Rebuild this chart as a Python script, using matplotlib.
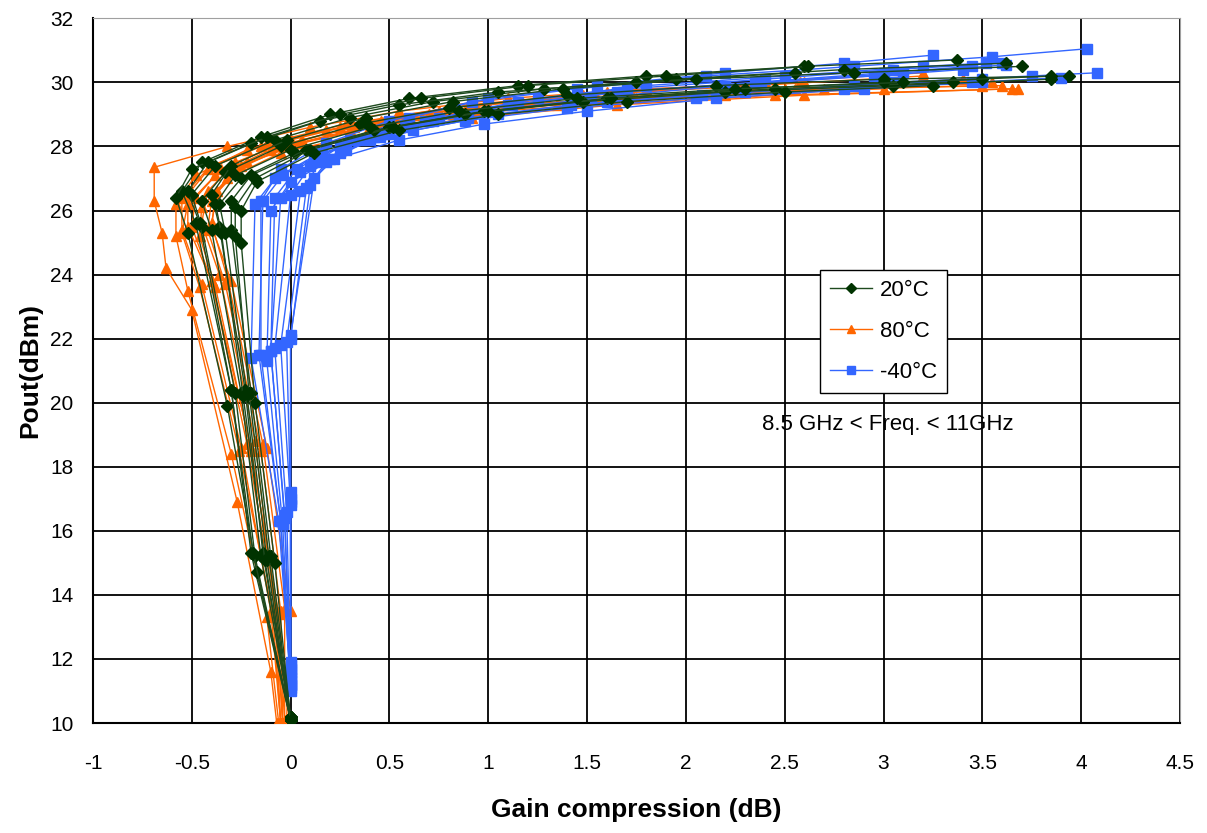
import matplotlib.pyplot as plt

# Gain compression (dB) vs Pout (dBm), one curve per frequency
gc_20 = [
    [0.00, -0.20, -0.30, -0.48, -0.55, -0.45, -0.15, 0.20, 0.60, 1.15, 1.80, 2.60, 3.37],
    [0.00, -0.18, -0.28, -0.45, -0.50, -0.38, -0.08, 0.30, 0.72, 1.28, 1.95, 2.80, 3.62],
    [0.00, -0.15, -0.25, -0.40, -0.45, -0.33, -0.05, 0.35, 0.80, 1.40, 2.15, 3.00, 3.94],
    [0.00, -0.12, -0.22, -0.33, -0.36, -0.25, 0.02, 0.42, 0.88, 1.48, 2.20, 3.05, 3.85],
    [0.00, -0.10, -0.20, -0.30, -0.30, -0.20, 0.08, 0.50, 0.98, 1.60, 2.45, 3.35],
    [0.00, -0.08, -0.18, -0.25, -0.25, -0.17, 0.12, 0.55, 1.05, 1.70, 2.50, 3.25],
    [0.00, -0.17, -0.32, -0.52, -0.58, -0.50, -0.20, 0.15, 0.55, 1.05, 1.75, 2.55],
    [0.00, -0.14, -0.23, -0.36, -0.40, -0.30, -0.02, 0.38, 0.82, 1.38, 2.05, 2.85, 3.70],
    [0.00, -0.11, -0.21, -0.28, -0.28, -0.18, 0.10, 0.52, 1.00, 1.62, 2.30, 3.00, 3.50],
    [0.00, -0.19, -0.30, -0.46, -0.52, -0.42, -0.12, 0.25, 0.66, 1.20, 1.90, 2.62],
    [0.00, -0.13, -0.24, -0.35, -0.38, -0.28, 0.00, 0.40, 0.85, 1.45, 2.25, 3.10, 3.85],
]
pout_20 = [
    [10.1, 15.3, 20.4, 25.6, 26.6, 27.5, 28.3, 29.0, 29.5, 29.9, 30.2, 30.5, 30.7],
    [10.1, 15.2, 20.3, 25.5, 26.5, 27.4, 28.2, 28.9, 29.4, 29.8, 30.1, 30.4, 30.6],
    [10.2, 15.2, 20.3, 25.4, 26.3, 27.2, 28.0, 28.7, 29.2, 29.6, 29.9, 30.1, 30.2],
    [10.1, 15.1, 20.2, 25.3, 26.2, 27.0, 27.8, 28.5, 29.0, 29.4, 29.7, 29.9, 30.1],
    [10.2, 15.2, 20.3, 25.4, 26.3, 27.1, 27.9, 28.6, 29.1, 29.5, 29.8, 30.0],
    [10.1, 15.0, 20.0, 25.0, 26.0, 26.9, 27.8, 28.5, 29.0, 29.4, 29.7, 29.9],
    [10.1, 14.7, 19.9, 25.3, 26.4, 27.3, 28.1, 28.8, 29.3, 29.7, 30.0, 30.3],
    [10.2, 15.3, 20.4, 25.5, 26.5, 27.4, 28.2, 28.9, 29.4, 29.8, 30.1, 30.3, 30.5],
    [10.1, 15.2, 20.3, 25.2, 26.1, 27.0, 27.9, 28.6, 29.1, 29.5, 29.8, 30.0, 30.1],
    [10.2, 15.3, 20.4, 25.6, 26.6, 27.5, 28.3, 29.0, 29.5, 29.9, 30.2, 30.5],
    [10.1, 15.1, 20.2, 25.3, 26.2, 27.1, 27.9, 28.6, 29.1, 29.5, 29.8, 30.0, 30.2],
]

gc_80 = [
    [-0.07, -0.10, -0.27, -0.50, -0.63, -0.65, -0.69, -0.69, -0.32, 0.10, 0.55, 1.10, 1.80, 2.60],
    [-0.05, -0.10, -0.25, -0.45, -0.55, -0.55, -0.42, -0.15, 0.25, 0.75, 1.40, 2.30, 3.50],
    [-0.04, -0.08, -0.22, -0.40, -0.50, -0.48, -0.35, -0.08, 0.32, 0.85, 1.55, 2.50, 3.55],
    [-0.03, -0.06, -0.20, -0.38, -0.46, -0.45, -0.32, -0.05, 0.38, 0.92, 1.65, 2.60, 3.65],
    [-0.05, -0.08, -0.18, -0.36, -0.45, -0.42, -0.28, 0.00, 0.40, 0.90, 1.60, 2.40, 3.20],
    [-0.02, 0.00, -0.12, -0.30, -0.40, -0.38, -0.25, 0.05, 0.45, 1.00, 1.75, 2.70, 3.60],
    [-0.06, -0.12, -0.30, -0.52, -0.58, -0.58, -0.48, -0.22, 0.18, 0.70, 1.35, 2.20, 3.00],
    [-0.04, -0.05, -0.15, -0.33, -0.42, -0.40, -0.30, -0.02, 0.42, 0.95, 1.70, 2.55, 3.40],
    [-0.04, -0.07, -0.20, -0.40, -0.52, -0.52, -0.40, -0.12, 0.28, 0.80, 1.48, 2.35, 3.20],
    [-0.05, -0.09, -0.26, -0.46, -0.55, -0.52, -0.38, -0.10, 0.30, 0.82, 1.50, 2.45, 3.68],
    [-0.03, -0.03, -0.14, -0.32, -0.40, -0.37, -0.22, 0.06, 0.46, 1.00, 1.72, 2.58],
]
pout_80 = [
    [10.0, 11.6, 16.9, 22.9, 24.2, 25.3, 26.3, 27.35, 28.0, 28.6, 29.1, 29.5, 29.8, 30.0],
    [10.0, 13.5, 18.6, 23.7, 25.4, 26.4, 27.3, 28.0, 28.6, 29.1, 29.4, 29.7, 29.9],
    [10.0, 13.6, 18.7, 23.8, 25.5, 26.4, 27.3, 28.0, 28.6, 29.1, 29.5, 29.8, 30.0],
    [10.0, 13.4, 18.5, 23.6, 25.2, 26.1, 27.0, 27.8, 28.4, 28.9, 29.3, 29.6, 29.8],
    [10.0, 13.6, 18.8, 24.0, 25.6, 26.6, 27.5, 28.2, 28.8, 29.3, 29.7, 30.0, 30.3],
    [10.1, 13.5, 18.6, 23.8, 25.5, 26.5, 27.4, 28.1, 28.7, 29.2, 29.5, 29.8, 29.9],
    [10.0, 13.3, 18.4, 23.5, 25.2, 26.2, 27.1, 27.9, 28.5, 29.0, 29.3, 29.6, 29.8],
    [10.0, 13.5, 18.5, 23.7, 25.4, 26.3, 27.2, 28.0, 28.6, 29.1, 29.5, 29.8, 30.1],
    [10.0, 13.5, 18.6, 23.8, 25.5, 26.5, 27.4, 28.1, 28.7, 29.2, 29.6, 29.9, 30.2],
    [10.0, 13.4, 18.5, 23.6, 25.3, 26.2, 27.1, 27.9, 28.5, 29.0, 29.3, 29.6, 29.8],
    [10.1, 13.6, 18.7, 23.9, 25.6, 26.6, 27.5, 28.2, 28.8, 29.3, 29.7, 30.0],
]

gc_m40 = [
    [0.00, -0.05, -0.15, -0.15, -0.05, 0.18, 0.50, 0.92, 1.45, 2.10, 2.85, 3.55, 4.03],
    [0.00, -0.03, -0.10, -0.05, 0.05, 0.28, 0.62, 1.05, 1.60, 2.30, 3.05, 3.75, 4.08],
    [0.00, -0.02, -0.08, 0.00, 0.10, 0.30, 0.60, 1.00, 1.55, 2.20, 2.80, 3.25],
    [0.00, 0.00, -0.05, 0.05, 0.15, 0.35, 0.68, 1.10, 1.65, 2.35, 3.00, 3.45],
    [0.00, 0.00, 0.00, 0.10, 0.20, 0.42, 0.75, 1.15, 1.70, 2.40, 3.05, 3.60],
    [0.00, -0.06, -0.20, -0.18, -0.08, 0.12, 0.45, 0.88, 1.40, 2.05, 2.80, 3.45, 3.90],
    [0.00, -0.04, -0.12, -0.10, 0.00, 0.22, 0.55, 0.98, 1.50, 2.15, 2.90, 3.50],
    [0.00, 0.00, 0.00, 0.12, 0.25, 0.50, 0.85, 1.25, 1.80, 2.50, 3.20, 3.52],
    [0.00, -0.03, -0.10, -0.08, 0.03, 0.25, 0.58, 1.00, 1.52, 2.20, 2.95, 3.40],
    [0.00, 0.00, -0.02, 0.08, 0.18, 0.40, 0.72, 1.12, 1.68, 2.38, 3.10, 3.62],
    [0.00, -0.05, -0.16, -0.14, -0.04, 0.16, 0.48, 0.90, 1.42, 2.08, 2.85, 3.50],
]
pout_m40 = [
    [11.0, 16.3, 21.5, 26.3, 27.3, 28.1, 28.8, 29.4, 29.8, 30.2, 30.5, 30.8, 31.05],
    [11.2, 16.4, 21.6, 26.4, 27.2, 27.9, 28.5, 29.0, 29.4, 29.7, 30.0, 30.2, 30.3],
    [11.5, 16.6, 21.7, 26.5, 27.4, 28.2, 28.9, 29.5, 29.9, 30.3, 30.6, 30.85],
    [11.6, 16.8, 21.8, 26.6, 27.5, 28.2, 28.8, 29.3, 29.7, 30.0, 30.3, 30.5],
    [11.8, 17.0, 22.0, 26.8, 27.6, 28.3, 28.9, 29.4, 29.8, 30.1, 30.4, 30.6],
    [11.3, 16.3, 21.4, 26.2, 27.0, 27.7, 28.3, 28.8, 29.2, 29.5, 29.8, 30.0, 30.15],
    [11.1, 16.2, 21.3, 26.0, 26.9, 27.6, 28.2, 28.7, 29.1, 29.5, 29.8, 30.0],
    [11.9, 17.2, 22.1, 27.0, 27.8, 28.4, 29.0, 29.5, 29.9, 30.2, 30.5, 30.6],
    [11.4, 16.5, 21.6, 26.4, 27.3, 28.0, 28.6, 29.1, 29.5, 29.9, 30.2, 30.4],
    [11.7, 16.9, 21.9, 26.7, 27.5, 28.2, 28.8, 29.3, 29.7, 30.0, 30.3, 30.55],
    [11.2, 16.3, 21.5, 26.3, 27.1, 27.8, 28.4, 28.9, 29.3, 29.6, 29.9, 30.1],
]

x_ticks = [-1, -0.5, 0, 0.5, 1, 1.5, 2, 2.5, 3, 3.5, 4, 4.5]
x_labels = ['-1', '-0.5', '0', '0.5', '1', '1.5', '2', '2.5', '3', '3.5', '4', '4.5']
y_ticks = [10, 12, 14, 16, 18, 20, 22, 24, 26, 28, 30, 32]

plt.rcParams['font.family'] = ['Liberation Sans', 'DejaVu Sans']

fig = plt.figure(figsize=(12.07, 8.33), dpi=100)
ax = fig.add_axes([0.077, 0.132, 0.9006, 0.846])

# (x, y, line colour, marker colour, marker, size, label)
series = [
    (gc_80, pout_80, '#FF6600', '#FF6600', '^', 7.5, '80°C'),
    (gc_m40, pout_m40, '#3366FF', '#3366FF', 's', 6.5, '-40°C'),
    (gc_20, pout_20, '#1E4A1E', '#003300', 'D', 6, '20°C'),
]
handles = {}
for xs, ys, lc, mc, mk, ms, lab in series:
    for i in range(len(xs)):
        ln, = ax.plot(xs[i], ys[i], color=lc, lw=1, marker=mk, ms=ms,
                      mfc=mc, mec=mc, zorder=3)
        if i == 0:
            handles[lab] = ln

ax.set_xlim(-1, 4.5)
ax.set_ylim(10, 32)
ax.set_xticks(x_ticks)
ax.set_xticklabels(x_labels)
ax.set_yticks(y_ticks)
ax.grid(True, color='black', lw=1.3)
ax.set_axisbelow(True)
ax.tick_params(length=0, labelsize=15, pad=22)
ax.tick_params(axis='y', pad=14)
for side in ['top', 'right']:
    ax.spines[side].set_color('#a0a0a0')
for side in ['left', 'bottom']:
    ax.spines[side].set_color('black')
    ax.spines[side].set_linewidth(1.5)

ax.set_xlabel('Gain compression (dB)', fontsize=19, fontweight='bold', labelpad=18)
ax.set_ylabel('Pout(dBm)', fontsize=19, fontweight='bold', labelpad=6)

leg = ax.legend([handles['20°C'], handles['80°C'], handles['-40°C']],
                ['20°C', '80°C', '-40°C'], loc='upper left',
                bbox_to_anchor=(0.669, 0.643), borderaxespad=0, fontsize=16,
                frameon=True, fancybox=False, edgecolor='black', framealpha=1,
                handlelength=1.9, handletextpad=0.35, borderpad=0.45,
                labelspacing=0.9, markerscale=0.8)
leg.get_frame().set_linewidth(1)

ax.text(0.731, 0.423, '8.5 GHz < Freq. < 11GHz', transform=ax.transAxes,
        ha='center', va='center', fontsize=16)

fig.savefig('out.png', dpi=100)
